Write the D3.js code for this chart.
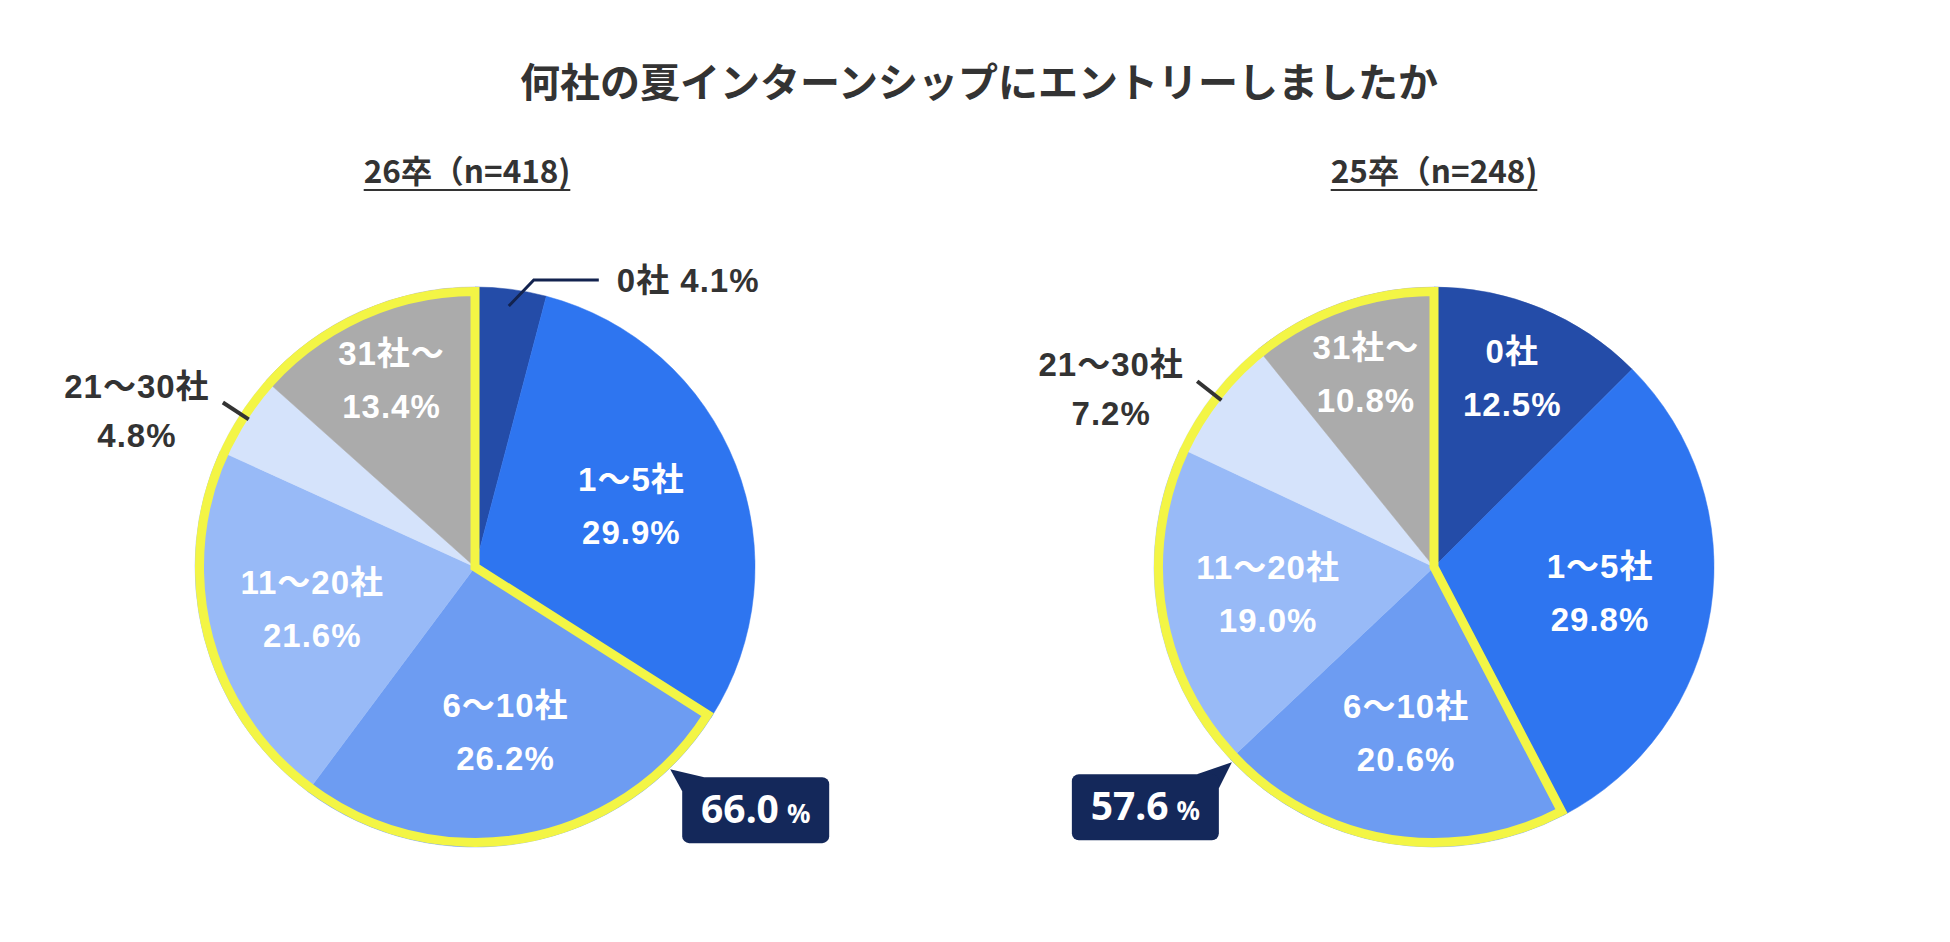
<!DOCTYPE html>
<html>
<head>
<meta charset="utf-8">
<script src="https://cdn.jsdelivr.net/npm/d3@7"></script>
<style>
  body { margin: 0; background: #fff; }
  svg { display: block; }
</style>
</head>
<body>
<div id="chart"></div>
<script>
// data
var title = "何社の夏インターンシップにエントリーしましたか";
var categories = ["0社", "1〜5社", "6〜10社", "11〜20社", "21〜30社", "31社〜"];
var values26 = [4.1, 29.9, 26.2, 21.6, 4.8, 13.4];
var values25 = [12.5, 29.8, 20.6, 19.0, 7.2, 10.8];
var groupTitles = ["26卒（n=418)", "25卒（n=248)"];
var highlightFrom = 2; // 6〜10社 and more

var colors = ["#244ca8", "#2e75f0", "#6d9cf2", "#98baf7", "#d5e3fb", "#ababab"];

var width = 1950, height = 942;
var radius = 280;
var labelFont = "'Liberation Sans', 'Noto Sans CJK JP', sans-serif";
var jpFont = "'Noto Sans CJK JP', sans-serif";

var svg = d3.select("#chart").append("svg")
  .attr("width", width)
  .attr("height", height);

svg.append("text")
  .attr("x", 979)
  .attr("y", 97)
  .attr("text-anchor", "middle")
  .style("font-family", jpFont)
  .style("font-weight", 700)
  .style("font-size", "40px")
  .style("fill", "#333")
  .text(title);

var pie = d3.pie().sort(null).value(function(d) { return d; });
var arc = d3.arc().innerRadius(0).outerRadius(radius);

var polar = function(a, r) {
  return [Math.sin(a) * r, -Math.cos(a) * r];
};

var labelText = function(sel, color) {
  return sel.style("font-family", labelFont)
    .style("font-weight", 700)
    .style("font-size", "33px")
    .style("letter-spacing", "1px")
    .style("fill", color);
};

var drawPie = function(values, cx, subtitle, subX, calloutDeg, calloutSide) {
  var g = svg.append("g").attr("transform", "translate(" + cx + ",567)");

  var sub = svg.append("text")
    .attr("x", subX)
    .attr("y", 183)
    .attr("text-anchor", "middle")
    .style("font-family", jpFont)
    .style("font-weight", 700)
    .style("font-size", "31.5px")
    .style("fill", "#333")
    .text(subtitle);
  var bb = sub.node().getBBox();
  svg.append("line")
    .attr("x1", bb.x).attr("x2", bb.x + bb.width)
    .attr("y1", 190).attr("y2", 190)
    .style("stroke", "#333")
    .style("stroke-width", 2);

  var arcs = pie(values);

  g.selectAll(".slice")
    .data(arcs).enter()
    .append("path")
    .attr("class", "slice")
    .attr("d", arc)
    .style("fill", function(d, i) { return colors[i]; })
    .style("stroke", function(d, i) { return colors[i]; })
    .style("stroke-width", 0.5);

  // yellow outline round the 6社-and-more slices
  var hl = d3.arc().innerRadius(0).outerRadius(radius - 4.5)
    .startAngle(arcs[highlightFrom].startAngle)
    .endAngle(arcs[arcs.length - 1].endAngle);
  g.append("path")
    .attr("d", hl())
    .style("fill", "none")
    .style("stroke", "#f3f545")
    .style("stroke-width", 9)
    .style("stroke-linejoin", "miter");

  arcs.forEach(function(d, i) {
    var mid = (d.startAngle + d.endAngle) / 2;
    var pct = values[i].toFixed(1) + "%";
    if (values[i] >= 8) {
      var k = Math.cos(mid) > 0.8 ? 0.73 : 0.6;
      var p = polar(mid, radius * k);
      var t = labelText(g.append("text").attr("text-anchor", "middle"), "#fff");
      t.append("tspan").attr("x", p[0]).attr("y", p[1] - 15).text(categories[i]);
      t.append("tspan").attr("x", p[0]).attr("y", p[1] + 38).text(pct);
    } else if (Math.sin(mid) > 0) {
      var a = polar(mid, radius * 0.94);
      var b = [a[0] + 25, a[1] - 26];
      var c = [b[0] + 65, b[1]];
      g.append("path")
        .attr("d", d3.line()([a, b, c]))
        .style("fill", "none")
        .style("stroke", "#13234f")
        .style("stroke-width", 3);
      labelText(g.append("text"), "#333")
        .attr("x", c[0] + 18)
        .attr("y", c[1] + 12)
        .text(categories[i] + " " + pct);
    } else {
      var a2 = polar(mid, radius * 0.965);
      var b2 = polar(mid, radius * 1.075);
      g.append("line")
        .attr("x1", a2[0]).attr("y1", a2[1])
        .attr("x2", b2[0]).attr("y2", b2[1])
        .style("stroke", "#333")
        .style("stroke-width", 4);
      var t2 = labelText(g.append("text").attr("text-anchor", "middle"), "#333");
      t2.append("tspan").attr("x", b2[0] - 86).attr("y", b2[1] - 5).text(categories[i]);
      t2.append("tspan").attr("x", b2[0] - 86).attr("y", b2[1] + 44).text(pct);
    }
  });

  // callout with the highlighted total
  var total = d3.sum(values.slice(highlightFrom)).toFixed(1);
  var tip = polar(calloutDeg * Math.PI / 180, radius + 1);
  var bw = 147, bh = 66;
  var bx, by, tail;
  if (calloutSide == "right") {
    bx = tip[0] + 12; by = tip[1] + 8;
    tail = [tip, [bx, by + 14], [bx + 22, by]];
  } else {
    bx = tip[0] - 13 - bw; by = tip[1] + 12;
    tail = [tip, [bx + bw - 22, by], [bx + bw, by + 14]];
  }
  g.append("path")
    .attr("d", d3.line()(tail) + "Z")
    .style("fill", "#14285a");
  g.append("rect")
    .attr("x", bx).attr("y", by)
    .attr("width", bw).attr("height", bh)
    .attr("rx", 7)
    .style("fill", "#14285a");
  var ct = g.append("text")
    .attr("x", bx + bw / 2)
    .attr("y", by + 46)
    .attr("text-anchor", "middle")
    .style("font-family", "'Noto Sans', sans-serif")
    .style("font-weight", 700)
    .style("fill", "#fff");
  ct.append("tspan").style("font-size", "39px").text(total);
  ct.append("tspan").style("font-size", "26px").attr("dx", 8).text("%");
};

drawPie(values26, 475, groupTitles[0], 467, 136, "right");
drawPie(values25, 1434, groupTitles[1], 1434, 226, "left");
</script>
</body>
</html>
